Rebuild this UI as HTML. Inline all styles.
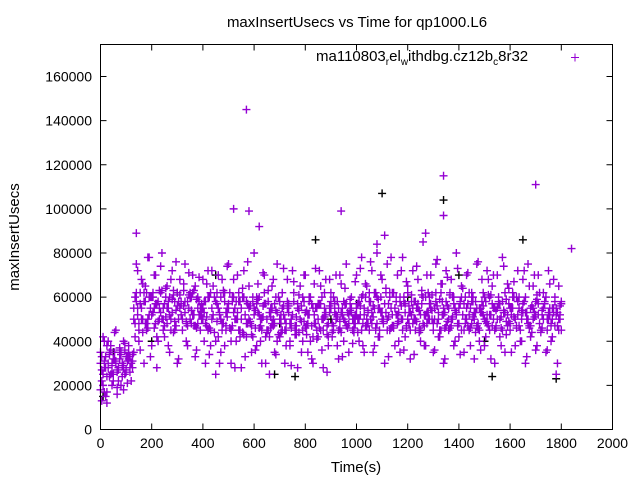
<!DOCTYPE html>
<html><head><meta charset="utf-8"><style>
html,body{margin:0;padding:0;background:#fff;}
svg{display:block;font-family:"Liberation Sans",sans-serif;}
</style></head><body>
<svg id="chart" width="640" height="480" viewBox="0 0 640 480">
<rect width="640" height="480" fill="#fff"/>
<text x="357" y="27" font-size="15" text-anchor="middle">maxInsertUsecs vs Time for qp1000.L6</text>
<text transform="translate(19,237) rotate(-90)" font-size="15" text-anchor="middle">maxInsertUsecs</text>
<text x="356" y="472" font-size="15" text-anchor="middle">Time(s)</text>
<g id="ticks"></g>
<g id="marks"></g>
<rect x="100.5" y="44.5" width="512" height="385" fill="none" stroke="#000" stroke-width="1"/>
<g>
<text x="316" y="61" font-size="15">ma110803<tspan font-size="10" dy="4">r</tspan><tspan dy="-4">el</tspan><tspan font-size="10" dy="4">w</tspan><tspan dy="-4">ithdbg.cz12b</tspan><tspan font-size="10" dy="4">c</tspan><tspan dy="-4">8r32</tspan></text>
<path d="M571,57.5h8M575,53.5v8" stroke="#9400d3" stroke-width="1"/>
</g>
</svg>
<script>
const times = [];
for (let t = 0; t <= 1800; t += 10) times.push(t);
const times2 = [];
for (let t = 5; t <= 1795; t += 10) times2.push(t);
const valsA = [35,20,28,40,25,32,30,22,35,28,33,38,30,
55,62,48,50,58,45,60,52,55,42,63,50,57,48,60,53,45,62,55,50,58,47,60,52,65,48,55,
50,58,45,62,52,40,55,60,48,53,57,45,60,50,62,55,43,58,50,47,55,60,52,45,57,50,42,55,48,53,58,45,50,55,40,52,47,57,50,45,53,48,60,42,55,50,57,45,52,48,55,60,50,45,53,58,47,52,55,50,
55,50,60,52,47,58,53,62,48,55,50,57,45,60,52,55,48,58,50,53,62,45,55,50,57,52,48,60,53,55,45,58,50,62,52,47,55,50,57,53,48,60,45,55,52,58,50,47,55,53,60,48,52,57,45,55,50,58,53,47,55,60,50,52,45,57,53,48,55,50,58,52,45,55,60,50,47,53,55,50,58];
const valsB = [18,42,15,30,38,25,45,28,20,40,27,35,22,
35,75,40,68,30,62,78,38,70,28,55,80,42,65,35,72,58,30,68,45,75,38,62,70,33,60,45,
68,30,72,38,65,25,70,35,62,45,75,30,68,40,58,28,72,42,65,35,80,38,60,30,70,45,25,65,35,75,42,62,30,68,38,72,45,28,65,40,70,35,60,30,73,42,65,28,68,38,62,45,70,32,66,40,75,35,60,44,
70,40,78,35,65,45,72,38,80,42,68,30,75,45,62,38,70,35,78,42,65,32,72,45,68,40,85,38,62,70,35,75,42,66,30,72,45,68,38,80,42,65,35,70,45,62,32,75,40,68,38,72,45,65,30,70,42,78,35,66,45,62,38,72,40,68,30,75,42,65,36,70,44,62,35,72,40,68,25,65,45];
const valsC = [30,25,33,28,36,22,31,27,34,29,26,32,30,
50,58,45,55,62,48,52,60,46,57,50,63,47,55,52,59,49,56,61,45,53,58,50,62,47,55,52,
55,48,60,45,52,58,42,50,63,47,55,40,53,58,45,50,60,48,55,43,52,57,46,50,62,44,53,48,57,40,50,55,45,58,48,52,43,55,50,60,46,52,40,55,48,57,45,50,53,42,58,47,52,55,44,50,57,48,53,46,
52,58,45,55,50,62,48,55,60,45,53,57,50,62,47,55,52,60,45,57,50,53,48,58,55,45,60,52,50,57,48,62,53,45,55,58,50,47,60,52,55,45,57,50,62,48,53,55,45,58,50,52,60,47,55,50,57,45,62,52,48,55,50,58,45,53,60,50,47,55,52,57,45,50,60,53,48,55,52,45,57];
const valsD = [33,28,38,24,30,35,27,32,29,36,31,26,34,
60,52,57,44,65,50,55,62,48,58,53,45,60,55,50,63,47,58,52,56,49,61,54,47,59,52,57,
53,47,60,50,44,57,52,48,62,55,46,58,50,53,45,60,52,48,56,42,54,59,47,51,57,45,55,50,60,43,52,56,48,53,46,58,51,44,56,49,54,60,47,52,45,57,50,55,43,53,48,58,51,46,55,49,53,57,45,52,
57,52,48,60,54,50,56,46,59,53,49,62,51,55,47,58,53,50,60,46,56,52,58,49,54,61,47,53,57,50,55,48,59,52,46,56,61,50,54,48,57,52,60,47,55,51,58,46,53,56,49,61,52,55,47,58,51,54,49,57,52,60,46,55,50,58,53,47,56,51,59,48,54,57,50,52,55,47,53,56];
const valsE = [22,40,17,34,26,44,19,36,24,39,21,33,28,
42,72,36,66,48,78,33,60,70,40,74,50,64,38,68,44,76,32,58,66,40,71,48,63,36,69,50,
40,66,34,72,44,62,30,68,38,74,46,60,28,70,42,64,33,76,48,58,36,66,40,71,30,63,46,68,34,60,44,73,38,56,29,67,43,61,35,70,47,58,32,66,41,72,36,62,26,68,44,57,38,70,33,64,46,59,39,67,
44,73,38,66,48,76,35,62,42,70,50,64,33,78,46,60,40,72,36,67,48,58,34,74,44,63,38,70,50,61,36,77,42,66,32,69,46,60,40,73,34,64,48,71,38,58,44,76,36,62,42,68,32,70,46,60,38,74,43,64,35,67,47,60,40,72,33,65,44,70,38,62,46,58,36,66,42,60,30,50];
const valsF = [27,31,24,35,29,32,26,37,30,25,33,28,31,
48,55,62,50,58,46,60,53,57,49,62,55,51,58,45,61,54,50,57,63,48,55,60,52,46,58,53,
58,51,46,55,60,49,53,45,58,51,62,47,55,50,58,44,52,57,49,60,46,53,50,56,42,58,51,47,54,60,48,52,45,57,50,62,47,54,49,58,43,52,57,48,55,46,60,51,47,56,42,53,58,49,52,57,46,54,50,48,
50,56,61,47,53,58,51,45,55,60,48,53,57,46,62,52,49,56,58,47,53,61,50,55,46,57,52,48,60,54,50,56,45,58,53,49,62,51,55,47,58,52,50,57,46,60,53,48,55,52,58,47,61,50,54,57,46,53,59,49,55,51,60,47,54,58,50,46,56,53,61,48,52,57,45,55,50,58,47,52];
const outT = [570,520,940,1340,1340,1700,580,140,1080,1110,1270,1840,620,5,15,25,45,65,90];
const outV = [145,100,99,115,97,111,99,89,84,88,89,82,92,13,17,12,20,16,18];
const blackT = [1100,1340,840,1650,300,700,1000,1500,1780,1530,680,760,200,450,1200,1400,10,50,900,1250];
const blackV = [107,104,86,86,62,48,57,40,23,24,25,24,40,70,60,70,15,35,50,45];
const xTicks = [0,200,400,600,800,1000,1200,1400,1600,1800,2000];
const yTicks = [0,20000,40000,60000,80000,100000,120000,140000,160000];

const X0=100.5, X1=612.5, Y0=429.5, Y1=44.5;
const xs = t => X0 + t/2000*(X1-X0);
const ys = v => 429.5 - v/160000*(429.5-76.5);
const NS="http://www.w3.org/2000/svg";
const tickG=document.getElementById('ticks');
const marks=document.getElementById('marks');
let d="";
xTicks.forEach(t=>{
  const x=xs(t);
  d+=`M${x},${Y0}v-6M${x},${Y1}v6`;
  const tx=document.createElementNS(NS,'text');
  tx.setAttribute('x',x);tx.setAttribute('y',448);tx.setAttribute('font-size','14');tx.setAttribute('text-anchor','middle');
  tx.textContent=t;
  
  
  tickG.appendChild(tx);
});
yTicks.forEach(v=>{
  const y=ys(v);
  d+=`M${X0},${y}h6M${X1},${y}h-6`;
  const tx=document.createElementNS(NS,'text');
  tx.setAttribute('x',92);tx.setAttribute('y',y+5);tx.setAttribute('font-size','14');tx.setAttribute('text-anchor','end');
  tx.textContent=v;
  
  
  tickG.appendChild(tx);
});
const tp=document.createElementNS(NS,'path');
tp.setAttribute('d',d);tp.setAttribute('stroke','#000');tp.setAttribute('fill','none');


tickG.appendChild(tp);

function cross(t,v){const x=xs(t),y=ys(v*1000);return `M${x-4},${y}h8M${x},${y-4}v8`;}
let pb="";
blackT.forEach((t,i)=>{pb+=cross(t,blackV[i]);});
let pp="";
[valsA,valsB,valsC].forEach(arr=>{
  times.forEach((t,i)=>{ if(arr[i]!==undefined) pp+=cross(t,arr[i]); });
});
[valsD,valsE,valsF].forEach(arr=>{
  times2.forEach((t,i)=>{ if(arr[i]!==undefined) pp+=cross(t,arr[i]); });
});
outT.forEach((t,i)=>{pp+=cross(t,outV[i]);});
const bp=document.createElementNS(NS,'path');
bp.setAttribute('d',pb);bp.setAttribute('stroke','#000');bp.setAttribute('fill','none');bp.setAttribute('stroke-width','1.4');


marks.appendChild(bp);
const ppth=document.createElementNS(NS,'path');
ppth.setAttribute('d',pp);ppth.setAttribute('stroke','#9400d3');ppth.setAttribute('fill','none');ppth.setAttribute('stroke-width','1.4');


marks.appendChild(ppth);
</script>
</body></html>
